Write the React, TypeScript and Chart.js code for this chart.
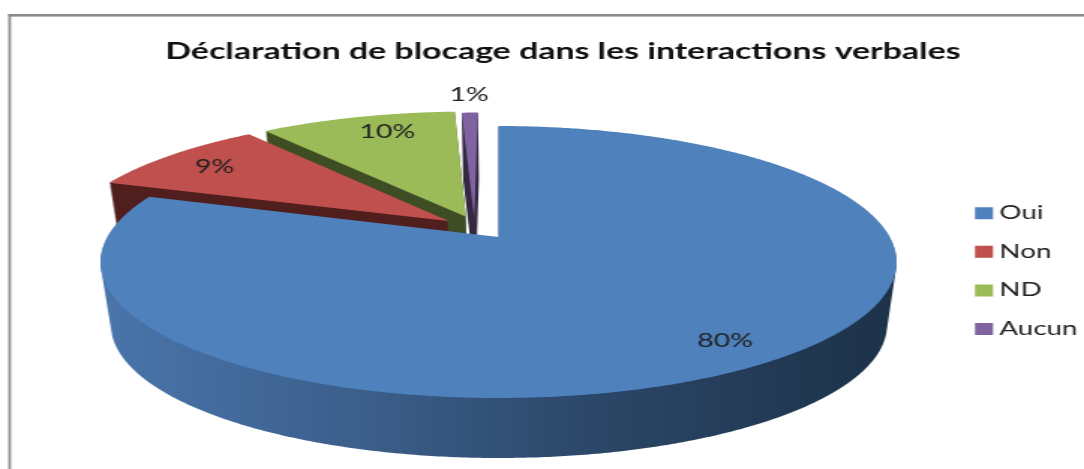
import React, { useEffect, useRef } from "react";
import { Chart, registerables } from "chart.js";

Chart.register(...registerables);

const chartTitle = "Déclaration de blocage dans les interactions verbales";
const categories = ["Oui", "Non", "ND", "Aucun"];
const shares = [80, 9.2, 9.7, 0.8];
const topColors = ["#4f81bd", "#c0504d", "#9bbb59", "#8064a2"];
const wallColors = ["#2a4565", "#4f1e1d", "#3f4d24", "#332840"];
const explosions = [0, 18, 18, 16];
const explosionTurn = [0, 8, -8, -22];
const labelTurn = [-1, 0, 3, 0];
const labelRadius = [0.85, 0.83, 0.83, 1.21];

// The reference is a horizontally stretched picture, so the canvas is stretched the same way.
const CANVAS_W = 723;
const STRETCH = 1084 / CANVAS_W;
const sx = (x: number) => x / STRETCH;

const TOP = { cx: 498.5, cy: 262, rx: 398, ry: 136 };
const BOTTOM = { cx: 499, cy: 325, rx: 388, ry: 133 };
const TILT = -0.184;
const STEP = Math.PI / 180 / 2;
const SWEEP_STEPS = 90;

type Pt = [number, number];

function project(u: number, v: number, e: { cx: number; cy: number; rx: number; ry: number }): Pt {
  const d = 1 + TILT * v;
  return [sx(e.cx + (e.rx * u * Math.sqrt(1 - TILT * TILT)) / d), e.cy + (e.ry * (v + TILT)) / d];
}

function sliceGeometry(arc: any, i: number) {
  const a0 = arc.startAngle + Math.PI / 2;
  const a1 = arc.endAngle + Math.PI / 2;
  const mid = (a0 + a1) / 2;
  const dir = mid + (explosionTurn[i] * Math.PI) / 180;
  const e = (arc.options.offset || 0) / 100;
  return { a0, a1, mid, ou: e * Math.sin(dir), ov: -e * Math.cos(dir) };
}

function addPoly(ctx: CanvasRenderingContext2D, pts: Pt[]) {
  pts.forEach(([x, y], k) => (k ? ctx.lineTo(x, y) : ctx.moveTo(x, y)));
  ctx.closePath();
}

const pie3d = {
  id: "pie3d",
  beforeDraw(chart: any) {
    const { ctx } = chart;
    ctx.save();
    ctx.fillStyle = "#ffffff";
    ctx.fillRect(0, 0, chart.width, chart.height);
    ctx.fillStyle = "#8c8c8c";
    ctx.fillRect(sx(8.3), 14, sx(2.7), chart.height);
    ctx.fillRect(sx(8.3), 14, chart.width, 2.6);
    ctx.restore();
  },
  afterLayout(chart: any) {
    const legend = chart.legend;
    const pad = legend.options.labels.padding;
    legend.left = sx(975) + 5 - pad;
    legend.top = 204 - pad;
  },
  beforeDatasetsDraw(chart: any) {
    const { ctx } = chart;
    const arcs = chart.getDatasetMeta(0).data;
    for (let i = arcs.length - 1; i >= 0; i--) {
      const g = sliceGeometry(arcs[i], i);
      const outline: Pt[] = [[g.ou, g.ov]];
      const n = Math.max(2, Math.ceil((g.a1 - g.a0) / STEP));
      for (let k = 0; k <= n; k++) {
        const t = g.a0 + ((g.a1 - g.a0) * k) / n;
        outline.push([Math.sin(t) + g.ou, -Math.cos(t) + g.ov]);
      }
      const top = outline.map(([u, v]) => project(u, v, TOP));
      const bottom = outline.map(([u, v]) => project(u, v, BOTTOM));
      const hasOffset = (arcs[i].options.offset || 0) > 0;

      ctx.save();
      if (hasOffset) {
        ctx.fillStyle = wallColors[i];
      } else {
        const grad = ctx.createLinearGradient(sx(100), 0, sx(895), 0);
        grad.addColorStop(0, "#4a75ab");
        grad.addColorStop(0.3, "#3d618e");
        grad.addColorStop(0.65, "#2a4565");
        grad.addColorStop(1, "#1d3249");
        ctx.fillStyle = grad;
      }
      ctx.beginPath();
      for (let s = 1; s <= SWEEP_STEPS; s++) {
        const f = s / SWEEP_STEPS;
        addPoly(
          ctx,
          top.map(([x, y], k): Pt => [x + (bottom[k][0] - x) * f, y + (bottom[k][1] - y) * f])
        );
      }
      ctx.fill();
      ctx.beginPath();
      addPoly(ctx, top);
      ctx.fillStyle = arcs[i].options.backgroundColor;
      ctx.fill();
      ctx.restore();
    }
    return false;
  },
  afterDraw(chart: any) {
    const { ctx } = chart;
    const arcs = chart.getDatasetMeta(0).data;
    ctx.save();
    ctx.font = "19px Lato";
    ctx.fillStyle = "#222222";
    ctx.textAlign = "center";
    ctx.textBaseline = "middle";
    arcs.forEach((arc: any, i: number) => {
      const g = sliceGeometry(arc, i);
      const r = labelRadius[i];
      const a = g.mid + (labelTurn[i] * Math.PI) / 180;
      const [x, y] = project(r * Math.sin(a) + g.ou, -r * Math.cos(a) + g.ov, TOP);
      ctx.fillText(`${Math.round(shares[i])}%`, x, y + 1);
    });
    ctx.restore();
  },
};

export default function App() {
  const ref = useRef<HTMLCanvasElement>(null);
  useEffect(() => {
    const chart = new Chart(ref.current as HTMLCanvasElement, {
      type: "pie",
      data: {
        labels: categories,
        datasets: [
          {
            data: shares,
            backgroundColor: topColors,
            offset: explosions,
            borderWidth: 0,
          },
        ],
      },
      options: {
        responsive: false,
        animation: false,
        events: [],
        layout: { padding: { left: sx(42), top: 28 } },
        plugins: {
          title: {
            display: true,
            text: chartTitle,
            color: "#111111",
            font: { family: "Lato", size: 22.6, weight: "bold" },
            padding: { top: 10, bottom: 10 },
          },
          legend: {
            position: "right",
            align: "start",
            labels: {
              boxWidth: 2,
              boxHeight: 2,
              padding: 20.1,
              color: "#222222",
              font: { family: "Lato", size: 18.5 },
              generateLabels: () =>
                categories.map((text, index) => ({
                  text,
                  index,
                  fillStyle: topColors[index],
                  strokeStyle: topColors[index],
                  lineWidth: 10,
                  lineJoin: "miter",
                  fontColor: "#222222",
                })),
            },
          },
          tooltip: { enabled: false },
        },
      },
      plugins: [pie3d],
    } as any);
    return () => chart.destroy();
  }, []);
  return (
    <div style={{ position: "fixed", left: 0, top: 0, width: 1084, height: 469, overflow: "hidden" }}>
      <canvas
        ref={ref}
        width={CANVAS_W}
        height={469}
        style={{ display: "block", transformOrigin: "0 0", transform: `scaleX(${STRETCH})` }}
      />
    </div>
  );
}
